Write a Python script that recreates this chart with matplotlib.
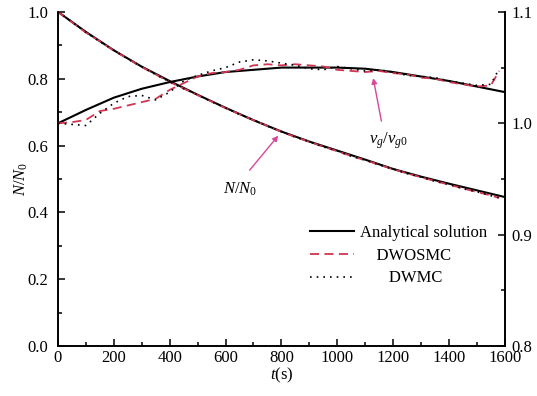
import matplotlib
matplotlib.use("Agg")
import matplotlib.pyplot as plt
from matplotlib.ticker import MultipleLocator

plt.rcParams['font.family'] = ['Liberation Serif', 'DejaVu Serif']
plt.rcParams['mathtext.fontset'] = 'custom'
plt.rcParams['mathtext.rm'] = 'Liberation Serif'
plt.rcParams['mathtext.it'] = 'Liberation Serif:italic'
plt.rcParams['font.size'] = 12

# ---- data ----
t_ana = [0, 100, 200, 300, 400, 500, 600, 700, 800, 900, 1000, 1100, 1200, 1300, 1400, 1500, 1600]
N_ana = [1.000, 0.940, 0.885, 0.836, 0.793, 0.752, 0.713, 0.676, 0.642, 0.612, 0.585,
         0.558, 0.530, 0.507, 0.486, 0.466, 0.446]
v_ana = [1.000, 1.012, 1.023, 1.031, 1.037, 1.042, 1.046, 1.048, 1.050, 1.050, 1.050,
         1.049, 1.046, 1.042, 1.038, 1.033, 1.028]

t_sim = [0, 50, 100, 150, 200, 250, 300, 350, 400, 450, 500, 550, 600, 650, 700, 750, 800,
         850, 900, 950, 1000, 1050, 1100, 1150, 1200, 1250, 1300, 1350, 1400, 1450, 1500, 1550, 1580]
N_dwosmc = [1.000, 0.969, 0.938, 0.912, 0.884, 0.860, 0.835, 0.813, 0.790, 0.771, 0.751, 0.732,
            0.712, 0.694, 0.676, 0.659, 0.641, 0.626, 0.611, 0.597, 0.583, 0.569, 0.556, 0.543,
            0.529, 0.517, 0.505, 0.494, 0.483, 0.472, 0.461, 0.451, 0.443]
N_dwmc = [1.000, 0.970, 0.939, 0.911, 0.885, 0.859, 0.836, 0.812, 0.791, 0.770, 0.752, 0.731,
          0.713, 0.693, 0.677, 0.658, 0.642, 0.625, 0.612, 0.596, 0.584, 0.568, 0.557, 0.542,
          0.530, 0.516, 0.506, 0.493, 0.484, 0.471, 0.462, 0.450, 0.444]
v_dwosmc = [1.000, 1.001, 1.003, 1.011, 1.013, 1.016, 1.019, 1.022, 1.030, 1.036, 1.042, 1.045,
            1.046, 1.048, 1.052, 1.053, 1.052, 1.053, 1.052, 1.051, 1.048, 1.047, 1.046, 1.047,
            1.045, 1.044, 1.041, 1.040, 1.037, 1.035, 1.033, 1.034, 1.047]
v_dwmc = [1.000, 0.999, 0.998, 1.009, 1.018, 1.024, 1.025, 1.021, 1.028, 1.038, 1.043, 1.047,
          1.050, 1.055, 1.057, 1.056, 1.054, 1.052, 1.049, 1.048, 1.051, 1.049, 1.047, 1.048,
          1.046, 1.043, 1.042, 1.041, 1.038, 1.036, 1.034, 1.035, 1.049]

red = '#d03552'
arrow_c = '#d8479c'

fig = plt.figure(figsize=(5.37, 3.96), dpi=100)
ax = fig.add_axes([0.108, 0.126, 0.832, 0.844])
ax2 = ax.twinx()

ax.plot(t_ana, N_ana, color='black', lw=1.5, zorder=3)
ax.plot(t_sim, N_dwosmc, color=red, lw=1.3, ls=(0, (5, 3)), zorder=4)
ax.plot(t_sim, N_dwmc, color='black', lw=1.2, ls=(0, (1, 3)), zorder=4)

h1, = ax2.plot(t_ana, v_ana, color='black', lw=1.5, zorder=3, label='Analytical solution')
h2, = ax2.plot(t_sim, v_dwosmc, color=red, lw=1.3, ls=(0, (5, 3)), zorder=4, label='    DWOSMC')
h3, = ax2.plot(t_sim, v_dwmc, color='black', lw=1.2, ls=(0, (1, 3)), zorder=4, label='       DWMC')

ax.set_xlim(0, 1600)
ax.set_ylim(0.0, 1.0)
ax2.set_ylim(0.8, 1.1)

ax.xaxis.set_major_locator(MultipleLocator(200))
ax.xaxis.set_minor_locator(MultipleLocator(100))
ax.yaxis.set_major_locator(MultipleLocator(0.2))
ax.yaxis.set_minor_locator(MultipleLocator(0.1))
ax2.yaxis.set_major_locator(MultipleLocator(0.1))
ax2.yaxis.set_minor_locator(MultipleLocator(0.05))
ax.set_yticklabels([f'{v:.1f}' for v in ax.get_yticks()])
ax2.set_yticks([0.8, 0.9, 1.0, 1.1])
ax2.set_yticklabels(['0.8', '0.9', '1.0', '1.1'])

for a in (ax, ax2):
    a.spines['top'].set_visible(False)
    for s in a.spines.values():
        s.set_linewidth(1.2)
ax.tick_params(which='both', direction='in', width=1.1, labelsize=12)
ax.tick_params(which='major', length=5)
ax.tick_params(which='minor', length=3)
ax.tick_params(axis='y', pad=7)
ax.tick_params(axis='x', pad=3)
ax2.tick_params(which='both', direction='in', width=1.1, labelsize=12, pad=5)
ax2.tick_params(which='major', length=5)
ax2.tick_params(which='minor', length=3)

ax.set_xlabel('$t$(s)', fontsize=12, labelpad=0)
ax.set_ylabel('$N/N_0$', fontsize=12, labelpad=-2)

# annotations
ax.text(651, 0.47, '$N/N_0$', fontsize=12, ha='center', va='center')
ax.annotate('', xy=(795, 0.636), xytext=(680, 0.52),
            arrowprops=dict(arrowstyle='-|>', color=arrow_c, lw=1.0, mutation_scale=8))
ax.text(1185, 0.615, r'$v_g/v_{g0}$', fontsize=12, ha='center', va='center')
ax.annotate('', xy=(1127, 0.81), xytext=(1160, 0.665),
            arrowprops=dict(arrowstyle='-|>', color=arrow_c, lw=1.0, mutation_scale=8))

leg = ax2.legend(handles=[h1, h2, h3], loc='upper left', bbox_to_anchor=(0.565, 0.362),
                 frameon=False, borderpad=0, borderaxespad=0, handlelength=2.6,
                 handletextpad=0.4, labelspacing=0.4, fontsize=12)

fig.savefig('out.png', dpi=100)
